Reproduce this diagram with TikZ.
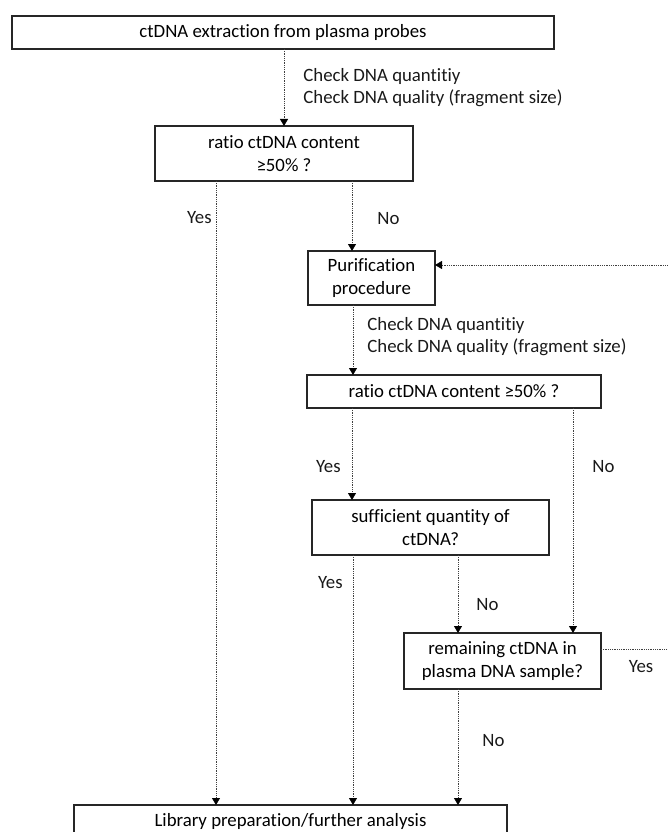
\documentclass[tikz,border=0pt]{standalone}
\usepackage{fontspec}
\setmainfont{Carlito}[Ligatures=NoCommon]
\usetikzlibrary{positioning, arrows.meta}

\begin{document}
\begin{tikzpicture}[
    x=1pt, y=1pt,
    font=\fontsize{18.8pt}{22.5pt}\selectfont,
    box/.style={draw=black!85, line width=1.2pt, inner sep=0pt, outer sep=0pt, align=center},
    arrow/.style={densely dotted, line width=0.8pt, black!75, -{Triangle[width=8pt, length=7pt, black]}},
    note/.style={inner sep=0pt, black!90, align=left}
]
    \useasboundingbox (0,0) rectangle (667,-832);

    % Boxes
    \node (extract) [box, minimum width=542pt, minimum height=33pt] at (283,-32.5) {ctDNA extraction from plasma probes};
    \node (ratio1) [box, minimum width=258pt, minimum height=55pt, below=77pt of extract, xshift=1pt] {ratio ctDNA content\\≥50\% ?};
    \node (purify) [box, minimum width=127pt, minimum height=54pt, below=70pt of ratio1, xshift=87.5pt] {Purification\\procedure};
    \node (ratio2) [box, minimum width=294pt, minimum height=33pt, below=70pt of purify, xshift=82.5pt] {ratio ctDNA content ≥50\% ?};
    \node (enough) [box, minimum width=237pt, minimum height=55pt, below=92pt of ratio2, xshift=-23.5pt] {sufficient quantity of\\ctDNA?};
    \node (remain) [box, minimum width=197pt, minimum height=56pt, below=78pt of enough, xshift=72pt] {remaining ctDNA in\\plasma DNA sample?};
    \node (library) [box, minimum width=433pt, minimum height=33pt, below=116pt of remain, xshift=-212pt] {Library preparation/further analysis};

    % Loop back (outside the frame)
    \coordinate (loopout) at (670,-649);
    \coordinate (loopin) at (670,-265);

    % Connectors
    \draw[arrow] (extract.south -| ratio1) -- (ratio1)
        node[pos=0.5, right=19pt, note] {Check DNA quantitiy\\Check DNA quality (fragment size)};
    \draw[arrow] ([xshift=-68pt]ratio1.south) -- ([xshift=-68pt]ratio1.south |- library.north)
        node[pos=0.059, left=4pt, note] {Yes};
    \draw[arrow] ([xshift=68pt]ratio1.south) -- ([xshift=68pt]ratio1.south |- purify.north)
        node[pos=0.53, right=25pt, note] {No};

    \draw[arrow] ([xshift=-18.5pt]purify.south) -- ([xshift=-18.5pt]purify.south |- ratio2.north)
        node[pos=0.45, right=14pt, note] {Check DNA quantitiy\\Check DNA quality (fragment size)};
    \draw[arrow] ([xshift=-102pt]ratio2.south) -- ([xshift=-102pt]ratio2.south |- enough.north)
        node[pos=0.64, left=11pt, note] {Yes};
    \draw[arrow] ([xshift=119pt]ratio2.south) -- ([xshift=119pt]ratio2.south |- remain.north)
        node[pos=0.26, right=19pt, note] {No};

    \draw[arrow] ([xshift=-77.5pt]enough.south) -- ([xshift=-77.5pt]enough.south |- library.north)
        node[pos=0.11, left=10pt, note] {Yes};
    \draw[arrow] ([xshift=27.5pt]enough.south) -- ([xshift=27.5pt]enough.south |- remain.north)
        node[pos=0.64, right=18pt, note] {No};

    \draw[arrow] ([xshift=-44.5pt]remain.south) -- ([xshift=-44.5pt]remain.south |- library.north)
        node[pos=0.44, right=24pt, note] {No};
    \draw[arrow] ([yshift=12pt]remain.east) -- (loopout)
        node[pos=0.58, below=11pt, note] {Yes}
        -- (loopin) -- ([yshift=13pt]purify.east);

\end{tikzpicture}
\end{document}
